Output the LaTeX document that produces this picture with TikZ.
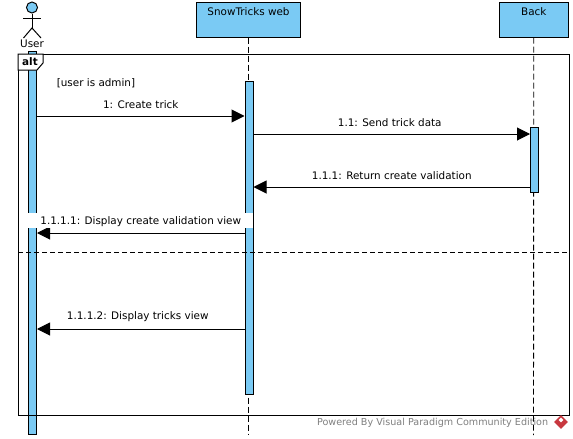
\documentclass[tikz,border=0pt]{standalone}
\usepackage{fontspec}
\setmainfont{DejaVu Sans}
\usepackage{xcolor}
\usetikzlibrary{positioning,arrows.meta,shapes.geometric}
\definecolor{vpblue}{HTML}{7ACAF4}
\definecolor{vpred}{HTML}{C8383F}
\definecolor{vpgrey}{HTML}{7F7F7F}

\begin{document}
\begin{tikzpicture}[x=1pt,y=-1pt,line width=1pt,
    every node/.style={font=\fontsize{10.4}{12}\selectfont},
    head/.style={draw,fill=vpblue,text depth=20pt,text height=11pt,inner ysep=1.75pt,inner xsep=0pt},
    bar/.style={draw,fill=vpblue,minimum width=8pt,inner sep=0pt},
    life/.style={dash pattern=on 6pt off 3pt,line width=.9pt},
    msg/.style={-{Triangle[length=13pt,width=13pt]}},
    msgtext/.style={above,yshift=5.5pt,inner sep=1pt}]
    \useasboundingbox (0,0) rectangle (573,439);
    % heads
    \node[head,minimum width=104.5pt] (web) at (248.5,19.75) {SnowTricks web};
    \node[head,minimum width=68.5pt] (back) at (533.75,19.75) {Back};
    % stick figure
    \node[draw,circle,fill=vpblue,minimum size=11pt,inner sep=0pt] (userhead) at (32,7.5) {};
    \coordinate (hip) at (32,28);
    \coordinate (armL) at (23,18);
    \coordinate (armR) at (41,18);
    \coordinate (legL) at (23.5,38);
    \coordinate (legR) at (41,38);
    \draw (userhead.south) -- (hip);
    \draw (armL) -- (armR);
    \draw (legL) -- (hip) -- (legR);
    \node (user) at (32,44) {User};
    % lifelines
    \coordinate (webend) at (248.5,435);
    \coordinate (backend) at (533.5,435);
    \draw[life] (web.south) -- (webend);
    \draw[life] (back.south) -- (backend);
    % activation bars
    \node[bar,minimum height=383pt] (userbar) at (32.5,242.75) {};
    \node[bar,minimum height=313pt] (webbar) at (249,237.5) {};
    \node[bar,minimum height=65pt] (backbar) at (534.5,159.5) {};
    % alt frame
    \coordinate (NW) at (18,54);
    \coordinate (SE) at (569,415);
    \draw (NW) rectangle (SE);
    \draw[fill=white] (NW) -- (43,54) -- (43,63) -- (37,70) -- (18,70) -- cycle;
    \node[font=\fontsize{10.4}{12}\selectfont\bfseries] (alt) at (30,61.5) {alt};
    \coordinate (splitL) at (18,252);
    \coordinate (splitR) at (569,252);
    \draw[dash pattern=on 5pt off 3pt] (splitL) -- (splitR);
    \node (guard) at (96,83) {[user is admin]};
    % messages
    \coordinate (m1) at (0,116);
    \coordinate (m2) at (0,134);
    \coordinate (m3) at (0,187);
    \coordinate (m4) at (0,233);
    \coordinate (m5) at (0,329);
    \draw[msg] (userbar.east |- m1) -- node[msgtext] {1: Create trick} (webbar.west |- m1);
    \draw[msg] (webbar.east |- m2) -- node[msgtext,xshift=-2pt] {1.1: Send trick data} (backbar.west |- m2);
    \draw[msg] (backbar.west |- m3) -- node[msgtext] {1.1.1: Return create validation} (webbar.east |- m3);
    \draw[msg] (webbar.west |- m4) -- node[msgtext,fill=white,minimum width=225pt,minimum height=15pt,text height=10pt,text depth=1pt,yshift=-.5pt] {1.1.1.1: Display create validation view} (userbar.east |- m4);
    \draw[msg] (webbar.west |- m5) -- node[msgtext,xshift=-3pt] {1.1.1.2: Display tricks view} (userbar.east |- m5);
    % footer
    \node[vpgrey,anchor=east,font=\fontsize{9.6}{11}\selectfont] (powered) at (552,423) {Powered By Visual Paradigm Community Edition};
    \node[diamond,fill=vpred,minimum size=14pt,inner sep=0pt] (logo) at (561,422) {};
    \node[diamond,fill=white,minimum size=5pt,inner sep=0pt] (logoinner) at (561,420) {};
\end{tikzpicture}
\end{document}
